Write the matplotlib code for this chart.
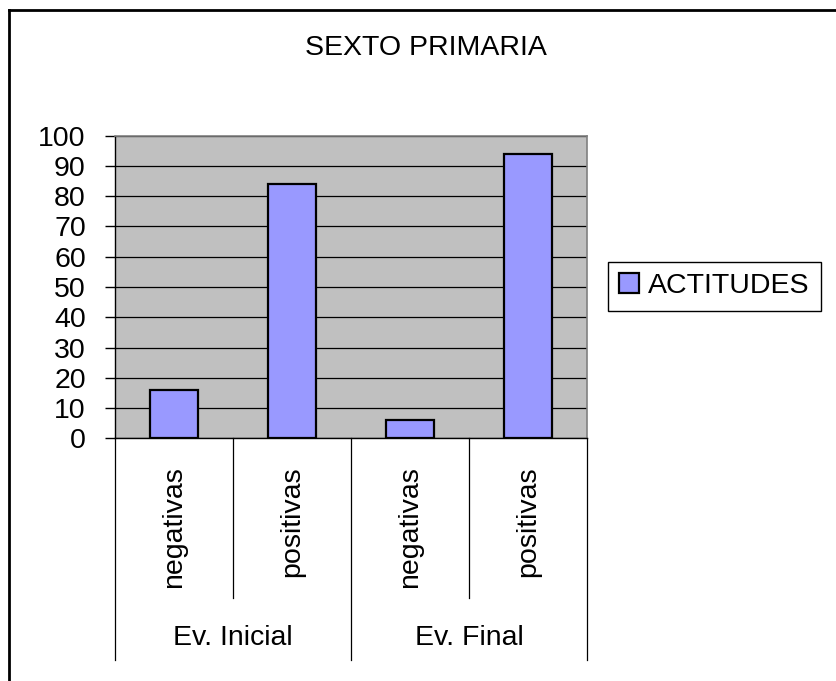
import matplotlib
matplotlib.use("Agg")
import matplotlib.pyplot as plt
from matplotlib.lines import Line2D
import matplotlib.transforms as mtransforms

plt.rcParams['font.family'] = ['Liberation Sans', 'DejaVu Sans']

title = "SEXTO PRIMARIA"
series_name = "ACTITUDES"
categories = ["negativas", "positivas", "negativas", "positivas"]
groups = ["Ev. Inicial", "Ev. Final"]
values = [16, 84, 6, 94]
yticks = list(range(0, 101, 10))

FS = 20.5

W, H = 837, 681
fig = plt.figure(figsize=(W / 100, H / 100), dpi=100)
fig.patch.set_facecolor('white')

def fx(px):
    return px / W

def fy(py):
    return 1 - py / H

ax = fig.add_axes([fx(115), fy(438.3), fx(587) - fx(115), fy(135.7) - fy(438.3)])
ax.set_facecolor('#C0C0C0')
x = list(range(len(values)))
bars = ax.bar(x, values, width=0.41, color='#9999FF', edgecolor='black',
              linewidth=1.6, zorder=3, label=series_name)
ax.set_xlim(-0.5, len(values) - 0.5)
ax.set_ylim(0, 100)
ax.set_yticks(yticks)
ax.set_yticklabels([str(t) for t in yticks], fontsize=FS)
ax.tick_params(axis='y', length=7, width=1, pad=14, direction='out', color='black')
ax.set_xticks([])
ax.yaxis.grid(True, color='black', linewidth=0.9, zorder=1)
ax.set_axisbelow(True)
for side in ['top', 'right']:
    ax.spines[side].set_color('#808080')
    ax.spines[side].set_linewidth(1.2)
ax.spines['left'].set_color('black')
ax.spines['bottom'].set_color('black')
ax.spines['left'].set_linewidth(1)
ax.spines['bottom'].set_linewidth(1)

trans = mtransforms.blended_transform_factory(ax.transData, ax.transAxes)
# category boundary lines
n = len(values)
for b in range(n + 1):
    pos = b - 0.5
    if b % 2 == 0:
        y1 = -0.733
    else:
        y1 = -0.528
    ax.add_line(Line2D([pos, pos], [0, y1], transform=trans, color='black',
                       linewidth=0.9, clip_on=False))
for i, c in enumerate(categories):
    ax.text(i, -0.092, c, transform=trans, rotation=90, ha='center', va='top',
            fontsize=FS)
for g, name in enumerate(groups):
    ax.text(2 * g + 0.5, -0.66, name, transform=trans, ha='center', va='center',
            fontsize=FS)

fig.text(fx(426), fy(48), title, ha='center', va='center', fontsize=FS)

# figure border (top and left visible)
fig.add_artist(Line2D([fx(9), 1.0], [fy(10), fy(10)], transform=fig.transFigure,
                      color='black', linewidth=2))
fig.add_artist(Line2D([fx(9), fx(9)], [fy(10), 0.0], transform=fig.transFigure,
                      color='black', linewidth=2))

leg = fig.legend(handles=[bars], labels=[series_name], loc='upper left',
                 bbox_to_anchor=(fx(608), fy(262)), borderaxespad=0,
                 fancybox=False, framealpha=1, edgecolor='black', fontsize=FS,
                 handlelength=0.7, handleheight=0.7, handletextpad=0.3,
                 borderpad=0.4)
leg.get_frame().set_linewidth(1)

fig.savefig('out.png', dpi=100)
